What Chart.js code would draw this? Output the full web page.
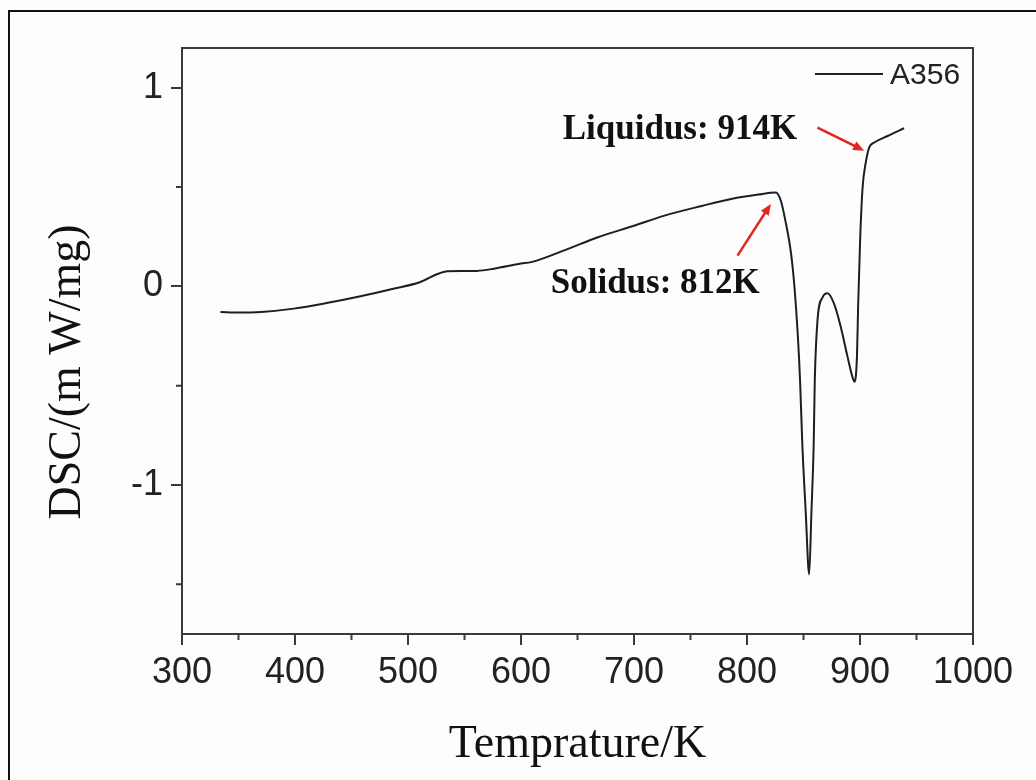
<!DOCTYPE html>
<html>
<head>
<meta charset="utf-8">
<script src="https://cdn.jsdelivr.net/npm/chart.js@4"></script>
<style>
  body { margin: 0; background: #fdfdfd; }
  #wrap { position: relative; width: 1036px; height: 780px; overflow: hidden; }
  #frame { position: absolute; left: 8px; top: 10px; width: 1100px; height: 900px;
           border-left: 2px solid #111; border-top: 2px solid #111; }
  canvas { position: absolute; left: 0; top: 0; }
</style>
</head>
<body>
<div id="wrap">
  <div id="frame"></div>
  <canvas id="dsc-chart" width="1036" height="780"></canvas>
</div>
<script>
const temperature = [334, 350, 370, 399, 428, 458, 487, 511, 526, 535, 548, 561, 576, 600, 609, 640, 668, 700,
  727, 760, 786, 810, 825.5, 830, 834, 839, 842, 845, 847, 849, 852, 855, 857, 859, 860, 862.4, 867, 871.3,
  877, 883, 889, 893, 895, 897.3, 898.4, 900.2, 902.3, 905, 908.2, 912.6, 924.4, 939];
const dsc = [-0.129, -0.132, -0.129, -0.112, -0.084, -0.05, -0.012, 0.022, 0.062, 0.076, 0.077, 0.078, 0.089,
  0.115, 0.122, 0.185, 0.247, 0.305, 0.356, 0.405, 0.44, 0.462, 0.472, 0.43, 0.33, 0.165, -0.003, -0.25,
  -0.48, -0.8, -1.14, -1.45, -1.14, -0.8, -0.47, -0.17, -0.054, -0.035, -0.087, -0.204, -0.355, -0.45,
  -0.48, -0.355, -0.087, 0.247, 0.498, 0.62, 0.70, 0.724, 0.757, 0.796];

const xTicks = [300, 400, 500, 600, 700, 800, 900, 1000];
const xMinor = [350, 450, 550, 650, 750, 850, 950];
const yTicks = [-1, 0, 1];
const yMinor = [-1.5, -0.5, 0.5];

// annotations: [label, textX, textY, arrowFromX, arrowFromY, arrowToX, arrowToY] in data units
const notes = [
  ["Solidus: 812K", 626.3, -0.035, 791.6, 0.155, 821.1, 0.415],
  ["Liquidus: 914K", 636.9, 0.742, 862.4, 0.799, 903.7, 0.683],
];

const axisColor = "#3a3a3a";
const arrowRed = "#e3241f";

function arrow(ctx, x1, y1, x2, y2) {
  const ang = Math.atan2(y2 - y1, x2 - x1);
  const head = 12;
  ctx.save();
  ctx.strokeStyle = arrowRed;
  ctx.fillStyle = arrowRed;
  ctx.lineWidth = 2.5;
  ctx.beginPath();
  ctx.moveTo(x1, y1);
  ctx.lineTo(x2 - Math.cos(ang) * head * 0.8, y2 - Math.sin(ang) * head * 0.8);
  ctx.stroke();
  ctx.beginPath();
  ctx.moveTo(x2, y2);
  ctx.lineTo(x2 - head * Math.cos(ang - 0.4), y2 - head * Math.sin(ang - 0.4));
  ctx.lineTo(x2 - head * Math.cos(ang + 0.4), y2 - head * Math.sin(ang + 0.4));
  ctx.closePath();
  ctx.fill();
  ctx.restore();
}

const extras = {
  id: "extras",
  afterDraw(chart) {
    const { ctx, chartArea: a, scales } = chart;
    const xs = scales.x, ys = scales.y;
    ctx.save();
    // frame
    ctx.strokeStyle = axisColor;
    ctx.lineWidth = 2;
    ctx.strokeRect(a.left, a.top, a.right - a.left, a.bottom - a.top);
    // minor ticks
    ctx.beginPath();
    for (const v of xMinor) {
      const px = xs.getPixelForValue(v);
      ctx.moveTo(px, a.bottom);
      ctx.lineTo(px, a.bottom + 6);
    }
    for (const v of yMinor) {
      const py = ys.getPixelForValue(v);
      ctx.moveTo(a.left, py);
      ctx.lineTo(a.left - 6, py);
    }
    ctx.stroke();

    // axis titles
    ctx.fillStyle = "#111";
    ctx.font = "46px 'Liberation Serif', 'Times New Roman', serif";
    ctx.textAlign = "center";
    ctx.textBaseline = "alphabetic";
    ctx.fillText("Temprature/K", (a.left + a.right) / 2, 757);
    ctx.save();
    ctx.translate(80, 372);
    ctx.rotate(-Math.PI / 2);
    ctx.fillText("DSC/(m W/mg)", 0, 0);
    ctx.restore();

    // legend
    ctx.strokeStyle = "#222";
    ctx.lineWidth = 2;
    ctx.beginPath();
    ctx.moveTo(815, 74);
    ctx.lineTo(883, 74);
    ctx.stroke();
    ctx.fillStyle = "#222";
    ctx.font = "30px 'Liberation Sans', Arial, sans-serif";
    ctx.textAlign = "left";
    ctx.textBaseline = "middle";
    ctx.fillText("A356", 890, 76);

    // annotations
    ctx.font = "bold 35px 'Liberation Serif', 'Times New Roman', serif";
    ctx.textBaseline = "alphabetic";
    ctx.fillStyle = "#111";
    for (const n of notes) {
      ctx.fillText(n[0], xs.getPixelForValue(n[1]), ys.getPixelForValue(n[2]));
      arrow(ctx, xs.getPixelForValue(n[3]), ys.getPixelForValue(n[4]),
        xs.getPixelForValue(n[5]), ys.getPixelForValue(n[6]));
    }
    ctx.restore();
  },
};

const tickFont = { family: "'Liberation Sans', Arial, sans-serif", size: 36 };

new Chart(document.getElementById("dsc-chart"), {
  type: "line",
  data: {
    datasets: [
      {
        label: "A356",
        data: temperature.map((t, i) => ({ x: t, y: dsc[i] })),
        borderColor: "#1e1e1e",
        borderWidth: 2,
        pointRadius: 0,
        cubicInterpolationMode: "monotone",
        fill: false,
      },
    ],
  },
  options: {
    responsive: false,
    animation: false,
    layout: { padding: { left: 0, top: 48, right: 63, bottom: 0 } },
    plugins: { legend: { display: false }, tooltip: { enabled: false } },
    scales: {
      x: {
        type: "linear",
        min: 300,
        max: 1000,
        afterBuildTicks: (s) => { s.ticks = xTicks.map((v) => ({ value: v })); },
        afterFit: (s) => { s.height = 146; },
        ticks: { font: tickFont, color: "#222", padding: 6, maxRotation: 0, callback: (v) => String(v) },
        grid: { drawOnChartArea: false, tickLength: 11, color: axisColor, lineWidth: 2 },
        border: { color: axisColor, width: 2 },
      },
      y: {
        min: -1.75,
        max: 1.2,
        afterBuildTicks: (s) => { s.ticks = yTicks.map((v) => ({ value: v })); },
        afterFit: (s) => { s.width = 182; },
        ticks: { font: tickFont, color: "#222", padding: 8, callback: (v) => String(v) },
        grid: { drawOnChartArea: false, tickLength: 11, color: axisColor, lineWidth: 2 },
        border: { color: axisColor, width: 2 },
      },
    },
  },
  plugins: [extras],
});
</script>
</body>
</html>
